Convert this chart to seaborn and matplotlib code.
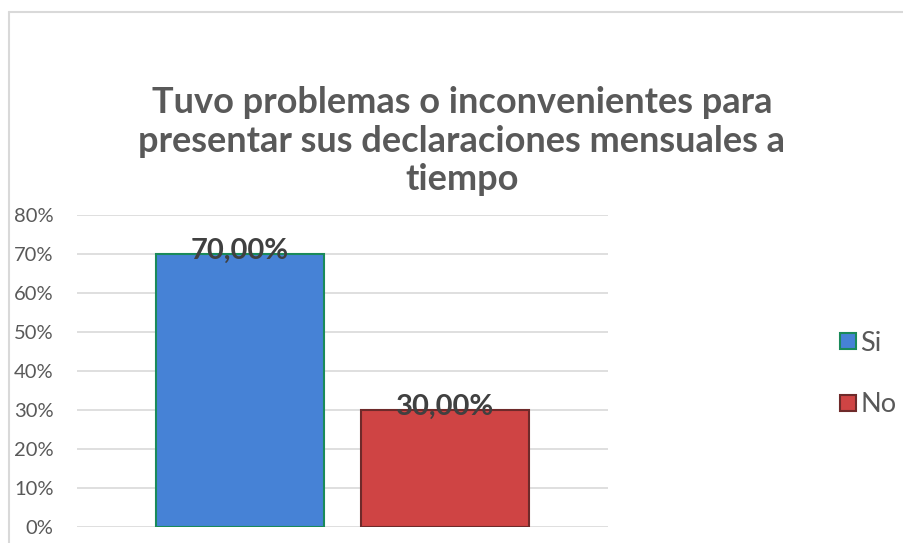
import numpy as np
import pandas as pd
import matplotlib
matplotlib.use("Agg")
import matplotlib.pyplot as plt
import seaborn as sns
from matplotlib.lines import Line2D

# Datos del grafico
categorias = ["Si", "No"]
valores = [70.0, 30.0]
etiquetas = ["70,00%", "30,00%"]
ticks_y = [0, 10, 20, 30, 40, 50, 60, 70, 80]
titulo = "Tuvo problemas o inconvenientes para\npresentar sus declaraciones mensuales a\ntiempo"

colores = ["#4682D6", "#CF4444"]
bordes = ["#1A8A5A", "#6E2A2A"]
gris = "#595959"

sns.set_theme(style="white")
plt.rcParams["font.family"] = ["Lato", "DejaVu Sans"]

df = pd.DataFrame({"grupo": [""] * 2, "respuesta": categorias, "valor": valores})

fig = plt.figure(figsize=(9.04, 5.43), dpi=100)
ax = fig.add_axes([77 / 904, 1 - 527 / 543, (608 - 77) / 904, (527 - 215) / 543])

sns.barplot(data=df, x="grupo", y="valor", hue="respuesta", palette=colores,
            ax=ax, width=0.772, gap=0.185, legend=False, saturation=1)
ax.set_xlim(-0.5, 0.5)

for bar, borde in zip(ax.patches, bordes):
    bar.set_edgecolor(borde)
    bar.set_linewidth(1.5)

for bar, txt in zip(ax.patches[:2], etiquetas):
    ax.text(bar.get_x() + bar.get_width() / 2, bar.get_height() + 0.9, txt,
            ha="center", va="center", fontsize=21, fontweight="bold", color="#404040")

ax.set_ylim(0, 80)
ax.set_yticks(ticks_y)
ax.set_yticklabels([f"{t}%" for t in ticks_y], fontsize=14.5, color=gris)
ax.yaxis.grid(True, color="#D9D9D9", lw=1.2)
ax.set_axisbelow(True)
ax.set_xticks([])
ax.set_xlabel("")
ax.set_ylabel("")
ax.tick_params(axis="y", length=0, pad=17)
for s in ax.spines.values():
    s.set_visible(False)

fig.text(462 / 904, 1 - 141 / 543, titulo, ha="center", va="center",
         fontsize=26, fontweight="bold", color=gris, linespacing=1.22)

# leyenda
handles = [Line2D([], [], marker="s", ls="none", markersize=12,
                  markerfacecolor=c, markeredgecolor=b, markeredgewidth=1.5)
           for c, b in zip(colores, bordes)]
fig.legend(handles, categorias, loc="center left", bbox_to_anchor=(840 / 904, 1 - 374 / 543),
           frameon=False, fontsize=19.5, labelcolor=gris, handletextpad=0.15,
           labelspacing=1.35, handlelength=0.6, borderaxespad=0, borderpad=0)

# marco del area del grafico
fig.add_artist(Line2D([9 / 904, 9 / 904], [0, 1 - 12 / 543], color="#D9D9D9", lw=1.5))
fig.add_artist(Line2D([9 / 904, 1], [1 - 12 / 543, 1 - 12 / 543], color="#D9D9D9", lw=1.5))

fig.savefig("out.png", dpi=100)
